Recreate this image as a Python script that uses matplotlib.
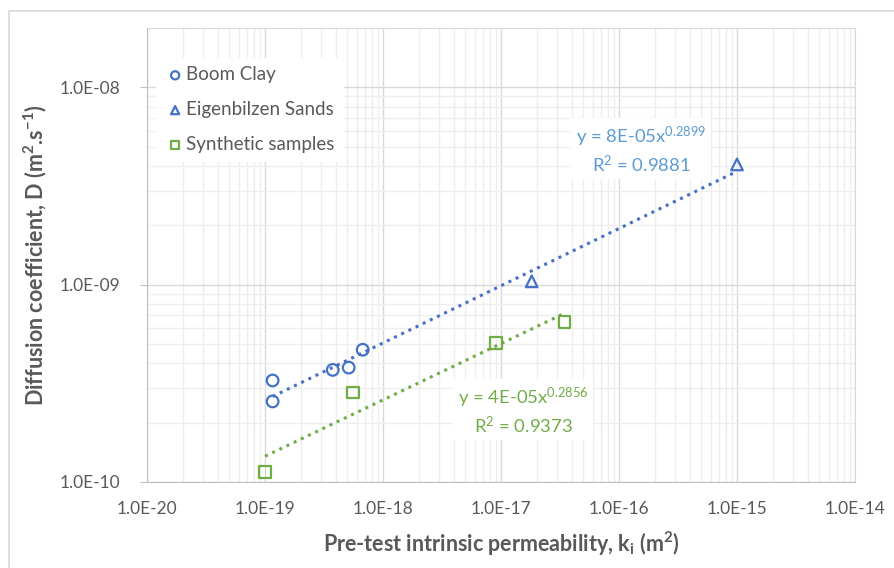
import numpy as np
import matplotlib.pyplot as plt
from matplotlib.ticker import FixedLocator, FuncFormatter, NullFormatter
from matplotlib.patches import Rectangle

# values (m2, m2/s)
boom_k = [1.16e-19, 1.16e-19, 3.75e-19, 5.12e-19, 6.73e-19]
boom_d = [3.27e-10, 2.56e-10, 3.70e-10, 3.80e-10, 4.68e-10]
sands_k = [1.82e-17, 1.0e-15]
sands_d = [1.04e-9, 4.07e-9]
synth_k = [1.0e-19, 5.54e-19, 9.07e-18, 3.44e-17]
synth_d = [1.12e-10, 2.84e-10, 5.06e-10, 6.47e-10]

x_ticks = [1e-20, 1e-19, 1e-18, 1e-17, 1e-16, 1e-15, 1e-14]
y_ticks = [1e-10, 1e-9, 1e-8]

fit_blue_text = "y = 8E-05x$^{\\mathregular{0.2899}}$\nR$^{\\mathregular{2}}$ = 0.9881"
fit_green_text = "y = 4E-05x$^{\\mathregular{0.2856}}$\nR$^{\\mathregular{2}}$ = 0.9373"

blue = "#4472C4"
green = "#70AD47"
grey = "#595959"

plt.rcParams['font.family'] = ['Lato', 'DejaVu Sans']
plt.rcParams['mathtext.default'] = 'regular'

W, H = 894, 568
fig = plt.figure(figsize=(W / 100, H / 100), dpi=100)
ax = fig.add_axes([147 / W, 1 - 482 / H, (855 - 147) / W, (482 - 28) / H])

# outer chart border
fig.patches.append(Rectangle((9 / W, -0.1), 1.0, 1 - 11 / H + 0.1, transform=fig.transFigure,
                             fill=False, edgecolor="#d9d9d9", linewidth=1.2))

ax.set_xscale("log")
ax.set_yscale("log")
ax.set_xlim(1e-20, 1e-14)
ax.set_ylim(1e-10, 2e-8)

ax.xaxis.set_major_locator(FixedLocator(x_ticks))
ax.yaxis.set_major_locator(FixedLocator(y_ticks))
ax.xaxis.set_minor_locator(FixedLocator([m * t for t in x_ticks[:-1] for m in range(2, 10)]))
ax.yaxis.set_minor_locator(FixedLocator([m * t for t in y_ticks for m in range(2, 10)
                                         if m * t < 2e-8]))
ax.xaxis.set_major_formatter(FuncFormatter(lambda v, p: "{:.1E}".format(v).replace("E-0", "E-")))
ax.yaxis.set_major_formatter(FuncFormatter(lambda v, p: "{:.1E}".format(v)))
ax.xaxis.set_minor_formatter(NullFormatter())
ax.yaxis.set_minor_formatter(NullFormatter())

ax.grid(True, which="major", color="#d9d9d9", linewidth=1.0)
ax.grid(True, which="minor", color="#eeeeee", linewidth=1.0)
ax.set_axisbelow(True)
for s in ["left", "bottom"]:
    ax.spines[s].set_color("#bfbfbf")
for s in ["top", "right"]:
    ax.spines[s].set_color("#d9d9d9")

ax.tick_params(axis="x", which="both", length=0, pad=14, labelsize=12.5, labelcolor=grey)
ax.tick_params(axis="y", which="major", length=5, color="#bfbfbf", pad=14, labelsize=12.5,
               labelcolor=grey)
ax.tick_params(axis="y", which="minor", length=0)

# power trendlines fitted in log space
def trend(kx, dy, color):
    lx, ly = np.log10(kx), np.log10(dy)
    b, a = np.polyfit(lx, ly, 1)
    xs = np.array([min(kx), max(kx)])
    ax.plot(xs, 10 ** (a + b * np.log10(xs)), linestyle=(0, (1, 1.6)), color=color,
            linewidth=2.2, zorder=2)

trend(boom_k + sands_k, boom_d + sands_d, blue)
trend(synth_k, synth_d, green)

ax.scatter(boom_k, boom_d, marker="o", s=70, facecolors="none", edgecolors=blue,
           linewidths=1.6, label="Boom Clay", zorder=3)
ax.scatter(sands_k, sands_d, marker="^", s=70, facecolors="none", edgecolors=blue,
           linewidths=1.6, label="Eigenbilzen Sands", zorder=3)
ax.scatter(synth_k, synth_d, marker="s", s=70, facecolors="none", edgecolors=green,
           linewidths=1.6, label="Synthetic samples", zorder=3)

leg = ax.legend(loc="upper left", bbox_to_anchor=(0.0, 0.955), frameon=True, fancybox=False,
                edgecolor="white", framealpha=1, fontsize=13.5, labelcolor=grey,
                handletextpad=0.05, labelspacing=0.95, borderpad=0.45, markerscale=0.7,
                handlelength=1.1)

def fig_xy(px, py):
    return px / W, 1 - py / H

fig.text(*fig_xy(641, 150), fit_blue_text, ha="center", va="center", fontsize=13.3,
         color="#5B9BD5", linespacing=1.25,
         bbox=dict(facecolor="white", edgecolor="none", pad=3))
fig.text(*fig_xy(523, 411), fit_green_text, ha="center", va="center", fontsize=13.3,
         color=green, linespacing=1.25,
         bbox=dict(facecolor="white", edgecolor="none", pad=3))

ax.set_xlabel("Pre-test intrinsic permeability, k$_{\\mathregular{i}}$ (m$^{\\mathregular{2}}$)",
              fontsize=15.5, fontweight="bold", color=grey, labelpad=9)
ax.set_ylabel("Diffusion coefficient, D (m$^{\\mathregular{2}}$.s$^{\\mathregular{-1}}$)",
              fontsize=15.5, fontweight="bold", color=grey, labelpad=8)

fig.savefig("out.png", dpi=100)
